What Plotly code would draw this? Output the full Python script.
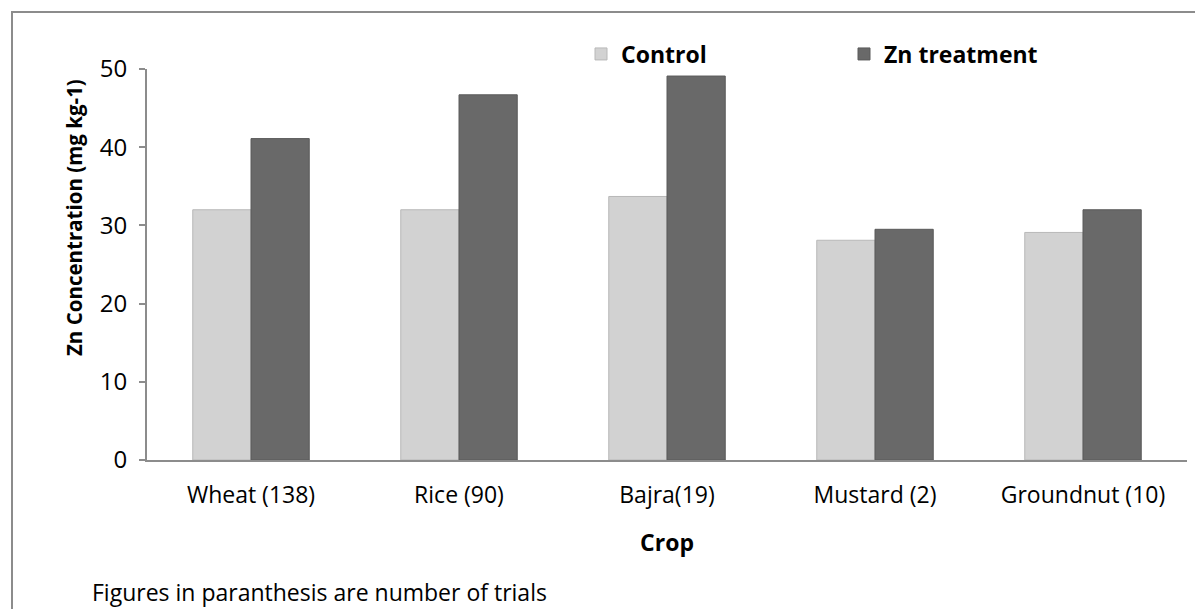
import plotly.graph_objects as go

crops = ["Wheat (138)", "Rice (90)", "Bajra(19)", "Mustard (2)", "Groundnut (10)"]
control = [32.0, 32.0, 33.7, 28.1, 29.1]
zn_treatment = [41.1, 46.7, 49.1, 29.5, 32.0]

FONT = "Open Sans"

fig = go.Figure()
fig.add_trace(go.Bar(name="Control", x=crops, y=control,
                     marker=dict(color="#d2d2d2", line=dict(color="#b8b8b8", width=1))))
fig.add_trace(go.Bar(name="Zn treatment", x=crops, y=zn_treatment,
                     marker=dict(color="#696969", line=dict(color="#5a5a5a", width=1))))

# page body has an 8px margin, so figure is sized/offset accordingly
OFF = 8
W, H = 1203 - OFF, 609 - OFF
L, R, T, B = 147 - OFF, 16, 69 - OFF, 609 - 460
pw, ph = W - L - R, H - T - B

def px(xp):  # page pixel -> paper x
    return (xp - OFF - L) / pw

def py(yp):  # page pixel -> paper y
    return (H - B - (yp - OFF)) / ph

fig.update_layout(
    width=W, height=H,
    margin=dict(l=L, r=R, t=T, b=B),
    paper_bgcolor="white", plot_bgcolor="white",
    barmode="group", bargap=0.44, bargroupgap=0,
    font=dict(family=FONT, color="black", size=23),
    showlegend=True,
    legend=dict(orientation="h", x=px(581), y=py(54), xanchor="left", yanchor="middle",
                font=dict(family=FONT, size=23, weight="bold"),
                entrywidth=218, entrywidthmode="pixels", itemwidth=30,
                bgcolor="rgba(0,0,0,0)"),
    xaxis=dict(showline=True, linecolor="#8c8c8c", linewidth=2, ticks="",
               ticklabelstandoff=13, tickfont=dict(size=23),
               title=dict(text="Crop", font=dict(size=23, weight="bold"), standoff=26),
               showgrid=False),
    yaxis=dict(range=[0, 50], dtick=10, showline=True, linecolor="#8c8c8c", linewidth=2,
               ticks="outside", ticklen=6, tickcolor="#8c8c8c", tickwidth=2,
               ticklabelstandoff=7,
               tickfont=dict(size=24), showgrid=False, zeroline=False),
    shapes=[dict(type="rect", xref="paper", yref="paper",
                 x0=px(12), x1=px(1230), y0=py(640), y1=py(12),
                 line=dict(color="#8c8c8c", width=2), fillcolor="rgba(0,0,0,0)", layer="below")],
    annotations=[
        dict(text="Figures in paranthesis are number of trials", xref="paper", yref="paper",
             x=px(90), y=py(592), xanchor="left", yanchor="middle", showarrow=False,
             font=dict(size=23, family=FONT)),
        dict(text="<b>Zn Concentration (mg kg-1)</b>", xref="paper", yref="paper",
             x=px(74), y=py(218), xanchor="center", yanchor="middle", showarrow=False,
             textangle=-90, font=dict(size=20.5, family=FONT)),
    ],
)

fig.write_html("out.html")
